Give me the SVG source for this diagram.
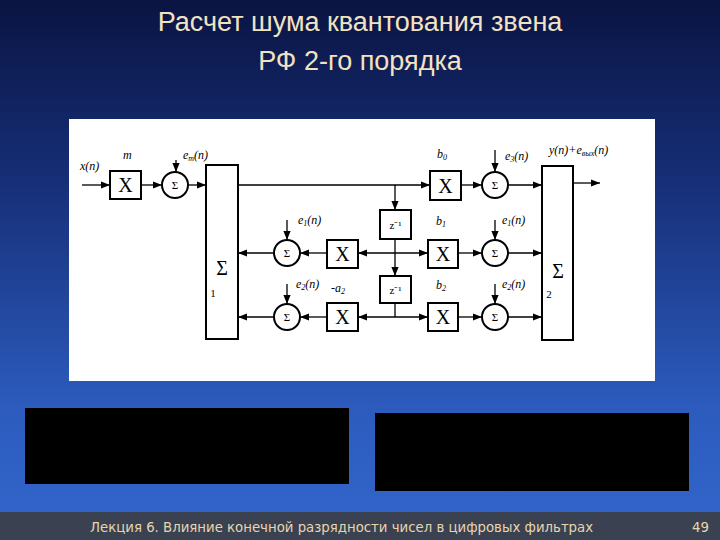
<svg xmlns="http://www.w3.org/2000/svg" width="720" height="540" viewBox="0 0 720 540">
<defs>
<linearGradient id="bg" x1="0" y1="0" x2="0" y2="1">
<stop offset="0" stop-color="#0a1442"/><stop offset="0.35" stop-color="#17307a"/><stop offset="0.75" stop-color="#2c5bbd"/><stop offset="1" stop-color="#3366cc"/>
</linearGradient>
<marker id="ar" viewBox="0 0 10 10" refX="10" refY="5" markerWidth="7" markerHeight="7" orient="auto"><path d="M0,1 L10,5 L0,9 z" fill="#000"/></marker>
<style>
.l{stroke:#000;stroke-width:1.3;fill:none}
.b{fill:#fff;stroke:#000;stroke-width:2}
.x{font-family:"Liberation Serif",serif;font-size:20px;text-anchor:middle}
.s{font-family:"Liberation Serif",serif;font-size:11px;text-anchor:middle}
.lb{font-family:"Liberation Serif",serif;font-size:12px;font-style:italic}
.ti{font-family:"Liberation Sans",sans-serif;font-size:27px;fill:#f2e2c2;text-anchor:middle}
.ft{font-family:"DejaVu Sans",sans-serif;font-size:13.3px;fill:#e6d6b0}
</style>
</defs>
<rect width="720" height="540" fill="url(#bg)"/>
<text class="ti" x="360" y="31">Расчет шума квантования звена</text>
<text class="ti" x="360" y="70">РФ 2-го порядка</text>
<rect x="69" y="119" width="586" height="262" fill="#fff"/>
<rect x="25" y="408" width="324" height="76" fill="#000"/>
<rect x="375" y="413" width="314" height="78" fill="#000"/>
<rect x="0" y="512" width="720" height="28" fill="#3a4150"/>
<text class="ft" x="90" y="532">Лекция 6. Влияние конечной разрядности чисел в цифровых фильтрах</text>
<text class="ft" x="692" y="532">49</text>
<g id="connectors">
<path class="l" d="M82,185 L110,185" marker-end="url(#ar)"/>
<path class="l" d="M141,185 L162,185" stroke-width="2" marker-end="url(#ar)"/>
<path class="l" d="M188,185 L206,185" marker-end="url(#ar)"/>
<path class="l" d="M176,160 L176,172" marker-end="url(#ar)"/>
<path class="l" d="M238,185 L430,185" marker-end="url(#ar)"/>
<path class="l" d="M461,185 L482,185" stroke-width="2" marker-end="url(#ar)"/>
<path class="l" d="M508,185 L542,185" marker-end="url(#ar)"/>
<path class="l" d="M495,150 L495,172" stroke-width="2" marker-end="url(#ar)"/>
<path class="l" d="M573,183 L600,183" marker-end="url(#ar)"/>
<path class="l" d="M395,185 L395,210" marker-end="url(#ar)"/>
<path class="l" d="M395,239 L395,276" marker-end="url(#ar)"/>
<path class="l" d="M395,303 L395,317"/>
<path class="l" d="M395,253 L358,253" marker-end="url(#ar)"/>
<path class="l" d="M395,253 L428,253" marker-end="url(#ar)"/>
<path class="l" d="M395,317 L358,317" marker-end="url(#ar)"/>
<path class="l" d="M395,317 L428,317" marker-end="url(#ar)"/>
<path class="l" d="M327,253 L300,253" marker-end="url(#ar)"/>
<path class="l" d="M274,253 L238,253" marker-end="url(#ar)"/>
<path class="l" d="M327,317 L300,317" marker-end="url(#ar)"/>
<path class="l" d="M274,317 L238,317" marker-end="url(#ar)"/>
<path class="l" d="M287,220 L287,240" marker-end="url(#ar)"/>
<path class="l" d="M287,284 L287,304" marker-end="url(#ar)"/>
<path class="l" d="M458,253 L482,253" stroke-width="2" marker-end="url(#ar)"/>
<path class="l" d="M508,253 L542,253" marker-end="url(#ar)"/>
<path class="l" d="M458,317 L482,317" marker-end="url(#ar)"/>
<path class="l" d="M508,317 L542,317" stroke-width="2" marker-end="url(#ar)"/>
<path class="l" d="M495,220 L495,240" marker-end="url(#ar)"/>
<path class="l" d="M495,284 L495,304" marker-end="url(#ar)"/>
</g>
<g id="sum1"><rect class="b" x="206" y="165" width="32" height="174"/><text class="x" x="222" y="275" font-size="26">Σ</text><text class="s" x="213" y="297" font-family="Liberation Sans" font-size="12">1</text></g>
<g id="sum2"><rect class="b" x="542" y="166" width="31" height="174"/><text class="x" x="558" y="278" font-size="26">Σ</text><text class="s" x="549" y="298" font-family="Liberation Sans" font-size="12">2</text></g>
<g id="mulm"><rect class="b" x="110" y="171" width="31" height="28"/><text class="x" x="125.5" y="192">X</text></g>
<g id="mulb0"><rect class="b" x="430" y="171" width="31" height="29"/><text class="x" x="445.5" y="193">X</text></g>
<g id="mula1"><rect class="b" x="327" y="240" width="31" height="28"/><text class="x" x="342.5" y="261">X</text></g>
<g id="mulb1"><rect class="b" x="428" y="240" width="30" height="28"/><text class="x" x="443" y="261">X</text></g>
<g id="mula2"><rect class="b" x="327" y="303" width="31" height="28"/><text class="x" x="342.5" y="324">X</text></g>
<g id="mulb2"><rect class="b" x="428" y="303" width="30" height="28"/><text class="x" x="443" y="324">X</text></g>
<g id="z1"><rect class="b" x="380" y="210" width="31" height="29"/><text class="s" x="395.5" y="229">z⁻¹</text></g>
<g id="z2"><rect class="b" x="380" y="276" width="31" height="27"/><text class="s" x="395.5" y="294">z⁻¹</text></g>
<g id="qm"><circle class="b" cx="175" cy="185" r="13" stroke-width="1.5"/><text class="s" x="175" y="189">Σ</text></g>
<g id="q1"><circle class="b" cx="287" cy="253" r="13" stroke-width="1.5"/><text class="s" x="287" y="257">Σ</text></g>
<g id="q2"><circle class="b" cx="287" cy="317" r="13" stroke-width="1.5"/><text class="s" x="287" y="321">Σ</text></g>
<g id="q3"><circle class="b" cx="495" cy="185" r="13" stroke-width="1.5"/><text class="s" x="495" y="189">Σ</text></g>
<g id="q4"><circle class="b" cx="495" cy="253" r="13" stroke-width="1.5"/><text class="s" x="495" y="257">Σ</text></g>
<g id="q5"><circle class="b" cx="495" cy="317" r="13" stroke-width="1.5"/><text class="s" x="495" y="321">Σ</text></g>
<g id="labels">
<text class="lb" x="80" y="170">x(n)</text>
<text class="lb" x="123" y="159">m</text>
<text class="lb" x="183" y="159">e<tspan font-size="8" dy="2">m</tspan><tspan dy="-2">(n)</tspan></text>
<text class="lb" x="298" y="224">e<tspan font-size="8" dy="2">1</tspan><tspan dy="-2">(n)</tspan></text>
<text class="lb" x="296" y="288">e<tspan font-size="8" dy="2">2</tspan><tspan dy="-2">(n)</tspan></text>
<text class="lb" x="331" y="292">-a<tspan font-size="8" dy="2">2</tspan></text>
<text class="lb" x="437" y="158">b<tspan font-size="8" dy="2">0</tspan></text>
<text class="lb" x="505" y="160">e<tspan font-size="8" dy="2">3</tspan><tspan dy="-2">(n)</tspan></text>
<text class="lb" x="436" y="225">b<tspan font-size="8" dy="2">1</tspan></text>
<text class="lb" x="502" y="224">e<tspan font-size="8" dy="2">1</tspan><tspan dy="-2">(n)</tspan></text>
<text class="lb" x="436" y="289">b<tspan font-size="8" dy="2">2</tspan></text>
<text class="lb" x="502" y="288">e<tspan font-size="8" dy="2">2</tspan><tspan dy="-2">(n)</tspan></text>
<text class="lb" x="549" y="154">y(n)+e<tspan font-size="8" dy="2">вых</tspan><tspan dy="-2">(n)</tspan></text>
</g>
</svg>
